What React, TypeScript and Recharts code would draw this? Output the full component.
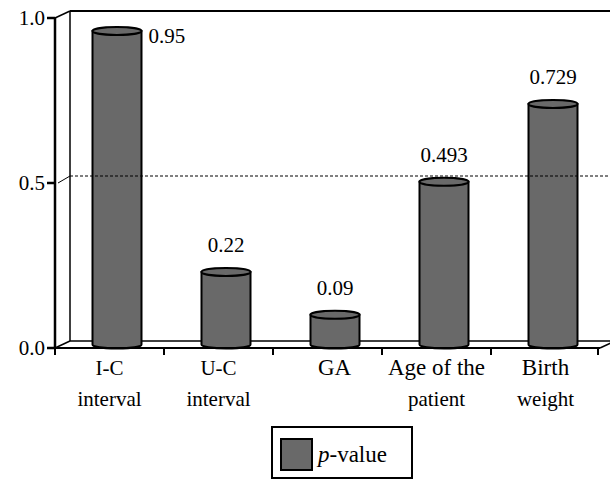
import React from 'react';
import { BarChart, Bar, XAxis, YAxis, LabelList, ReferenceLine, Customized } from 'recharts';

const categories = ['I-C interval', 'U-C interval', 'GA', 'Age of the patient', 'Birth weight'];
const pValues = [0.95, 0.22, 0.09, 0.493, 0.729];
const tickLine1 = ['I-C', 'U-C', 'GA', 'Age of the', 'Birth'];
const tickLine2 = ['interval', 'interval', '', 'patient', 'weight'];
const yTicks = [0, 0.5, 1];

const data = categories.map((name, i) => ({ name, p: pValues[i] }));

// layout
const W = 610;
const H = 483;
const LEFT = 55;
const TOP = 18;
const RIGHT = 600;
const BOTTOM = 348;
const DX = 15;
const DY = -7;
const BAND = (RIGHT - LEFT) / categories.length;
const FONT = '"Liberation Serif", serif';
const GRAY = '#696969';
const txt = (size: number) => ({ fontFamily: FONT, fontSize: size });

const Cylinder = (props: any) => {
  const { x, y, width, height } = props;
  const x0 = x + DX / 2;
  const x1 = x0 + width;
  const top = y + DY / 2;
  const bot = y + height + DY / 2;
  const rx = width / 2;
  const ry = 4;
  return (
    <g>
      <path
        d={`M${x0},${top} L${x0},${bot} A${rx},${ry} 0 0 0 ${x1},${bot} L${x1},${top} Z`}
        fill={GRAY}
        stroke="#000"
        strokeWidth={2}
      />
      <ellipse cx={x0 + rx} cy={top} rx={rx} ry={ry} fill={GRAY} stroke="#000" strokeWidth={2} />
    </g>
  );
};

const ValueLabel = (props: any) => {
  const { x, y, width, value } = props;
  const top = y + DY / 2;
  if (top - 30 < TOP) {
    return (
      <text x={x + DX / 2 + width + 7} y={top + 12} style={txt(21)} fill="#000">
        {value}
      </text>
    );
  }
  return (
    <text x={x + DX / 2 + width / 2} y={top - 20} textAnchor="middle" style={txt(21)} fill="#000">
      {value}
    </text>
  );
};

const XTick = (props: any) => {
  const { x, y, index } = props;
  const big = index >= 2;
  const left = x - BAND / 2;
  return (
    <g>
      <line x1={left} y1={BOTTOM} x2={left} y2={BOTTOM + 7} stroke="#000" strokeWidth={2} />
      {index === categories.length - 1 && (
        <line x1={x + BAND / 2 - 2} y1={BOTTOM} x2={x + BAND / 2 - 2} y2={BOTTOM + 7} stroke="#000" strokeWidth={2} />
      )}
      <text x={x + (index === 2 ? 7 : 0)} y={y + 19} textAnchor="middle" style={txt(big ? 23 : 21)} fill="#000">
        {tickLine1[index]}
      </text>
      <text x={x} y={y + 50} textAnchor="middle" style={txt(21)} fill="#000">
        {tickLine2[index]}
      </text>
    </g>
  );
};

const Walls = () => (
  <g stroke="#000" fill="none">
    <line x1={LEFT + DX} y1={TOP + DY} x2={LEFT + DX} y2={BOTTOM + DY} strokeWidth={1.5} />
    <line x1={LEFT + DX} y1={TOP + DY} x2={RIGHT + DX} y2={TOP + DY} strokeWidth={2} />
    <line x1={LEFT} y1={TOP} x2={LEFT + DX} y2={TOP + DY} strokeWidth={1.5} />
    <line x1={LEFT + DX} y1={BOTTOM + DY} x2={RIGHT + DX} y2={BOTTOM + DY} strokeWidth={1.5} />
    <line x1={LEFT} y1={BOTTOM} x2={LEFT + DX} y2={BOTTOM + DY} strokeWidth={1.5} />
    <line x1={RIGHT} y1={BOTTOM} x2={RIGHT + DX} y2={BOTTOM + DY} strokeWidth={1.5} />
  </g>
);

const LegendBox = () => (
  <g>
    <rect x={272} y={427} width={140} height={51} fill="#fff" stroke="#000" strokeWidth={2} />
    <rect x={281} y={439} width={31} height={31} fill={GRAY} stroke="#000" strokeWidth={2} />
    <text x={318} y={462} style={txt(23)} fill="#000">
      <tspan fontStyle="italic">p</tspan>-value
    </text>
  </g>
);

const GridShape = (props: any) => {
  const { x1, y1, x2 } = props;
  return (
    <g stroke="#000" strokeWidth={1}>
      <line x1={x1 + 3} y1={y1} x2={x1 + DX} y2={y1 + DY} />
      <line x1={x1 + DX} y1={y1 + DY} x2={x2 + DX} y2={y1 + DY} strokeDasharray="3 2" />
    </g>
  );
};

export default function App() {
  return (
    <div style={{ position: 'absolute', left: 0, top: 0, width: W, height: H, background: '#fff', fontFamily: FONT }}>
      <BarChart
        width={W}
        height={H}
        data={data}
        margin={{ top: TOP, right: W - RIGHT, bottom: 0, left: 0 }}
        barSize={49}
        style={{ fontFamily: FONT }}
      >
        <Customized component={Walls} />
        <ReferenceLine y={0.5} shape={GridShape} ifOverflow="visible" />
        <XAxis
          dataKey="name"
          height={H - BOTTOM}
          interval={0}
          tickLine={false}
          axisLine={{ stroke: '#000', strokeWidth: 2 }}
          tick={<XTick />}
        />
        <YAxis
          domain={[0, 1]}
          ticks={yTicks}
          width={LEFT}
          tickFormatter={(v: number) => v.toFixed(1)}
          axisLine={{ stroke: '#000', strokeWidth: 2.5 }}
          tickLine={{ stroke: '#000', strokeWidth: 2.5 }}
          tickSize={8}
          tickMargin={2}
          tick={{ fill: '#000', fontSize: 21, fontFamily: FONT }}
        />
        <Bar dataKey="p" shape={<Cylinder />} isAnimationActive={false}>
          <LabelList dataKey="p" content={<ValueLabel />} />
        </Bar>
        <Customized component={LegendBox} />
      </BarChart>
    </div>
  );
}
